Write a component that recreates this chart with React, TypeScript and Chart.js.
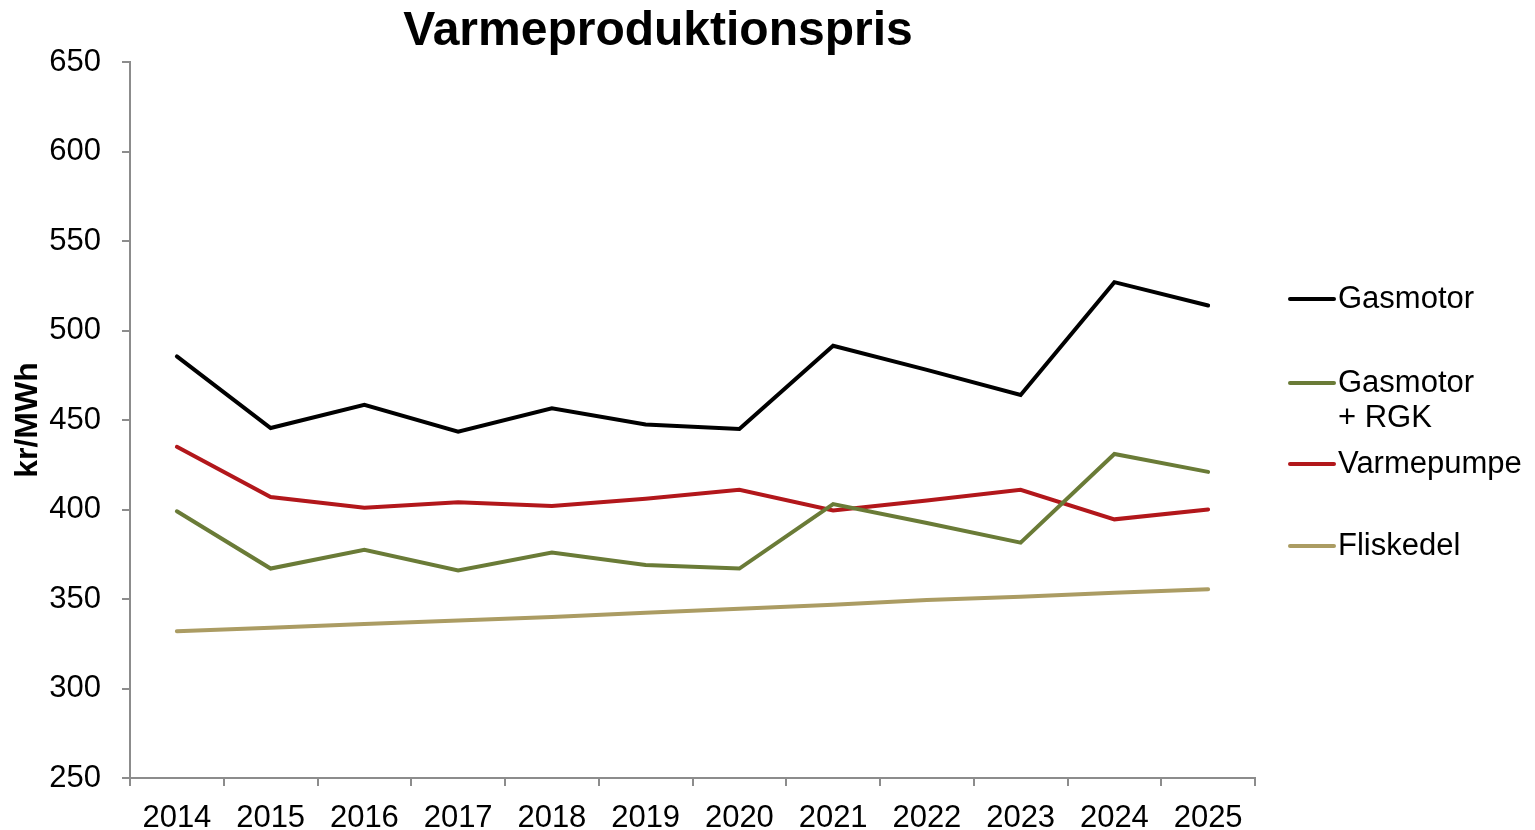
import React, { useEffect, useRef } from "react";
import { Chart, registerables } from "chart.js";

Chart.register(...registerables);

const TITLE = "Varmeproduktionspris";
const Y_TITLE = "kr/MWh";
const YEARS = ["2014", "2015", "2016", "2017", "2018", "2019", "2020", "2021", "2022", "2023", "2024", "2025"];

const GASMOTOR = [485.5, 445.5, 458.5, 443.5, 456.5, 447.5, 445, 491.5, 478, 464, 527, 514];
const GASMOTOR_RGK = [399, 367, 377.5, 366, 376, 369, 367, 403, 392.5, 381.5, 431, 421];
const VARMEPUMPE = [435, 407, 401, 404, 402, 406, 411, 399.5, 405, 411, 394.5, 400];
const FLISKEDEL = [332, 334, 336, 338, 340, 342.3, 344.5, 346.8, 349.5, 351.3, 353.5, 355.4];

const SERIES_NAMES = [["Gasmotor"], ["Gasmotor", "+ RGK"], ["Varmepumpe"], ["Fliskedel"]];
const COLORS = ["#000000", "#6A7B37", "#B2171B", "#AB9C63"];

const Y_MIN = 250;
const Y_MAX = 650;
const Y_STEP = 50;

const FONT = '"Liberation Sans", Arial, Helvetica, sans-serif';
const AXIS_COLOR = "#8C8C8C";

const overlayPlugin = {
  id: "overlayText",
  afterDraw(chart: any) {
    const ctx = chart.ctx as CanvasRenderingContext2D;
    ctx.save();
    // title
    ctx.fillStyle = "#000";
    ctx.font = `bold 48px ${FONT}`;
    ctx.textAlign = "center";
    ctx.textBaseline = "alphabetic";
    ctx.fillText(TITLE, 658, 45);

    // legend
    const entryY = [299, 383, 464, 546];
    const lineGap = 35;
    ctx.font = `31px ${FONT}`;
    ctx.textAlign = "left";
    ctx.textBaseline = "middle";
    SERIES_NAMES.forEach((lines, i) => {
      const y = entryY[i];
      ctx.strokeStyle = COLORS[i];
      ctx.lineWidth = 4;
      ctx.lineCap = "round";
      ctx.beginPath();
      ctx.moveTo(1290, y);
      ctx.lineTo(1334, y);
      ctx.stroke();
      ctx.fillStyle = "#000";
      lines.forEach((t, j) => ctx.fillText(t, 1338, y + j * lineGap));
    });
    ctx.restore();
  },
};

export default function App() {
  const ref = useRef<HTMLCanvasElement>(null);

  useEffect(() => {
    const values = [GASMOTOR, GASMOTOR_RGK, VARMEPUMPE, FLISKEDEL];
    const chart = new Chart(ref.current!, {
      type: "line",
      data: {
        labels: YEARS,
        datasets: values.map((d, i) => ({
          label: SERIES_NAMES[i].join(" "),
          data: d,
          borderColor: COLORS[i],
          backgroundColor: COLORS[i],
          borderWidth: 4,
          pointRadius: 0,
          tension: 0,
          fill: false,
          borderCapStyle: "round",
          borderJoinStyle: "miter",
        })),
      },
      options: {
        animation: false,
        responsive: true,
        maintainAspectRatio: false,
        devicePixelRatio: 1,
        layout: { padding: { top: 62, right: 280, left: 0, bottom: 0 } },
        plugins: {
          legend: { display: false },
          title: { display: false },
          tooltip: { enabled: false },
        },
        scales: {
          x: {
            type: "category",
            offset: true,
            grid: {
              offset: true,
              drawOnChartArea: false,
              drawTicks: true,
              tickLength: 8,
              color: AXIS_COLOR,
              lineWidth: 2,
            },
            border: { display: true, color: AXIS_COLOR, width: 2 },
            ticks: {
              color: "#000",
              font: { family: FONT, size: 31 },
              padding: 14,
              maxRotation: 0,
              autoSkip: false,
            },
            afterFit: (s: any) => {
              s.height = 52;
            },
          },
          y: {
            min: Y_MIN,
            max: Y_MAX,
            ticks: {
              stepSize: Y_STEP,
              color: "#000",
              font: { family: FONT, size: 31 },
              padding: 21,
            },
            grid: {
              drawOnChartArea: false,
              drawTicks: true,
              tickLength: 8,
              color: AXIS_COLOR,
              lineWidth: 2,
            },
            border: { display: true, color: AXIS_COLOR, width: 2 },
            title: {
              display: true,
              text: Y_TITLE,
              color: "#000",
              font: { family: FONT, size: 32, weight: "bold" },
              padding: { top: 9, bottom: 0 },
            },
            afterFit: (s: any) => {
              s.width = 130;
            },
          },
        },
      },
      plugins: [overlayPlugin],
    } as any);
    return () => chart.destroy();
  }, []);

  return (
    <div
      style={{
        position: "fixed",
        left: 0,
        top: 0,
        width: 1535,
        height: 830,
        background: "#fff",
      }}
    >
      <canvas ref={ref} />
    </div>
  );
}
